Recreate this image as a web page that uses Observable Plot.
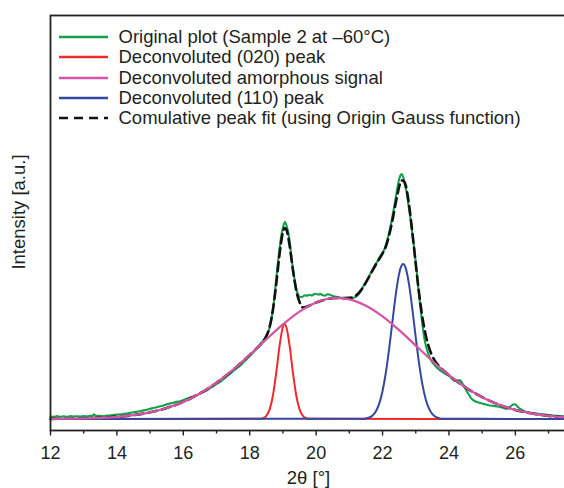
<!DOCTYPE html>
<html><head><meta charset="utf-8">
<script src="https://cdn.jsdelivr.net/npm/d3@7"></script>
<script src="https://cdn.jsdelivr.net/npm/@observablehq/plot@0.6"></script>
<style>
body{margin:0;background:#fff;}
#wrap{position:relative;width:564px;height:488px;font-family:"Liberation Sans",Arial,sans-serif;color:#231f20;}
#legend{position:absolute;left:59px;top:27px;font-size:18.5px;line-height:20.3px;}
.row{display:flex;align-items:center;height:20.3px;white-space:nowrap;}
.row svg{width:49px;height:6px;margin-right:10.5px;flex:none;}
</style></head>
<body><div id="wrap"><div id="chart"></div><div id="legend"></div></div>
<script>
// ---- data (intensity in arbitrary units) ----
const originalX = [12.0,12.1,12.2,12.3,12.4,12.5,12.6,12.7,12.8,12.9,13.0,13.1,13.2,13.27,13.31,13.36,13.5,13.6,13.7,13.8,13.9,14.0,14.1,14.2,14.3,14.4,14.5,14.6,14.7,14.8,14.9,15.0,15.1,15.2,15.3,15.4,15.5,15.6,15.7,15.8,15.9,16.0,16.1,16.2,16.3,16.4,16.5,16.6,16.7,16.8,16.9,17.0,17.1,17.2,17.3,17.4,17.5,17.6,17.7,17.8,17.9,18.0,18.1,18.2,18.3,18.4,18.5,18.58,18.64,18.7,18.75,18.8,18.85,18.9,18.95,19.0,19.06,19.12,19.17,19.22,19.27,19.32,19.37,19.42,19.47,19.53,19.6,19.67,19.72,19.8,19.87,19.93,20.0,20.07,20.12,20.2,20.27,20.34,20.42,20.5,20.58,20.66,20.76,20.86,20.96,21.06,21.16,21.25,21.33,21.44,21.53,21.63,21.74,21.85,21.95,22.03,22.1,22.18,22.23,22.3,22.38,22.43,22.48,22.53,22.58,22.63,22.68,22.73,22.78,22.83,22.88,22.93,22.98,23.03,23.08,23.13,23.18,23.23,23.28,23.34,23.4,23.49,23.58,23.68,23.8,23.9,24.0,24.1,24.19,24.27,24.34,24.4,24.47,24.53,24.59,24.66,24.74,24.84,24.94,25.05,25.14,25.24,25.34,25.44,25.54,25.64,25.74,25.82,25.89,25.95,26.0,26.07,26.14,26.24,26.34,26.5,26.65,26.8,26.95,27.1,27.25,27.4,27.5];
const originalY = [2.6,2.1,2.9,2.3,2.7,2.2,3.0,2.5,2.8,2.4,2.9,2.6,3.1,3.3,4.8,3.2,3.1,2.9,3.5,3.6,4.0,4.4,4.7,5.1,5.5,6.1,6.7,7.1,7.8,8.6,9.2,10.2,10.9,11.7,12.7,13.5,14.7,15.4,16.3,17.2,17.6,18.9,20.2,21.6,22.6,23.8,25.3,26.9,28.5,30.6,32.7,35.1,37.0,39.6,42.3,45.0,47.8,50.6,53.0,56.2,59.6,63.0,66.4,70.1,74.0,78.2,83.2,89,97,110,124,141,157,171,183,191.5,197,192,185,173,158,146,136,128,123.5,122,122.6,123.8,123.2,124.3,123.5,124.7,125.3,124.3,125.1,123.7,123.3,124.7,124.3,123.0,122.4,121.9,121.0,120.3,120.0,120.8,121.6,123.8,127,134,139,145,152,158,164,168,174,184,191,203,218,228,237,243,245,241,233,226,214,203,190,177,163,147,130,114,100,87,77,69,63,57,53.5,50,47,45,43,40.2,38,38.8,38.6,36,32,28,25,21.2,18.6,17,16,15,14.2,13.5,13.1,12.6,12,11,10.2,11.6,13.5,14.8,14.5,12.2,10.1,8.4,7.1,6.1,5.4,4.8,4.2,3.7,3.2,2.8,2.6];

const peak020X = [12,18.3,18.4,18.5,18.6,18.7,18.8,18.9,19.0,19.05,19.1,19.2,19.3,19.4,19.5,19.6,19.7,19.8,27.5];
const peak020Y = [0,0.2,0.8,3.1,9.6,23.7,46.7,73.6,92.3,95,92.3,73.6,46.7,23.7,9.6,3.1,0.8,0.2,0];

const amorphX = [12,12.5,13,13.5,14,14.5,15,15.5,16,16.5,17,17.5,18,18.5,19,19.5,20,20.5,20.65,21,21.5,22,22.5,23,23.5,24,24.5,25,25.5,26,26.5,27,27.5];
const amorphY = [0.14,0.3,0.6,1.2,2.2,3.9,6.7,11.0,17.1,25.5,36.2,49.3,64.1,79.6,94.6,107.4,116.5,120.8,121,119.7,113.3,102.6,88.8,73.4,58.0,43.8,31.6,21.8,14.4,9.1,5.5,3.1,1.7];

const peak110X = [12,21.4,21.5,21.6,21.7,21.8,21.9,22.0,22.1,22.2,22.3,22.4,22.5,22.6,22.62,22.7,22.8,22.9,23.0,23.1,23.2,23.3,23.4,23.5,23.6,23.7,23.8,27.5];
const peak110Y = [0,0.2,0.6,1.5,3.6,7.8,15.4,28.0,46.5,70.6,98.2,124.9,145.4,154.7,155,150.6,134.2,109.3,81.5,55.6,34.6,19.8,10.3,4.9,2.1,0.9,0.3,0];

const fitX = [12,12.5,13,13.5,14,14.5,15,15.5,16,16.5,17,17.5,18,18.2,18.4,18.5,18.6,18.7,18.8,18.9,19.0,19.05,19.1,19.2,19.3,19.4,19.5,19.6,19.7,19.8,20.0,20.25,20.5,20.75,21.0,21.2,21.4,21.6,21.8,22.0,22.1,22.2,22.3,22.4,22.5,22.56,22.62,22.7,22.8,22.9,23.0,23.1,23.2,23.3,23.4,23.5,23.6,23.7,23.8,24.0,24.5,25,25.5,26,26.5,27,27.5];
const fitY = [0.14,0.3,0.6,1.2,2.2,3.9,6.7,11.0,17.1,25.5,36.2,49.3,64.1,70.3,77.3,82.7,92.3,109.5,135.5,165.3,186.9,191,189.7,173.6,149.3,128.7,117.0,111.5,112.0,113.4,116.5,119.2,120.8,121,121.2,123.5,131,142.5,154.5,165.5,172.5,184,199,216.5,232,238.5,238.4,233.3,213.8,185.8,154.9,125.9,101.8,83.9,71.3,62.9,57.1,53.0,49.6,43.8,31.6,21.8,14.4,9.1,5.5,3.1,1.7];

const majorTicks = [12,14,16,18,20,22,24,26];
const minorTicks = [13,15,17,19,21,23,25,27];

const seriesNames = ["Original plot (Sample 2 at \u201360\u00b0C)","Deconvoluted (020) peak","Deconvoluted amorphous signal","Deconvoluted (110) peak","Comulative peak fit (using Origin Gauss function)"];
const seriesColors = ["#13a14b","#ee2a2a","#d653a6","#34489f","#111111"];
const xLabel = "2\u03b8 [\u00b0]";
const yLabel = "Intensity [a.u.]";

const toRows = (xs, ys) => xs.map((x, i) => ({x, y: ys[i]}));
const original = toRows(originalX, originalY);
const peak020 = toRows(peak020X, peak020Y);
const amorph = toRows(amorphX, amorphY);
const peak110 = toRows(peak110X, peak110Y);
const fit = toRows(fitX, fitY);

const font = '"Liberation Sans", Arial, sans-serif';
const chart = Plot.plot({
  width: 564, height: 488,
  marginLeft: 50, marginRight: -2, marginTop: 15, marginBottom: 58,
  x: {domain: [12, 27.54], label: null},
  y: {domain: [-11.5, 403.5], axis: null, label: null},
  style: {fontFamily: font, color: "#231f20", background: "white", overflow: "visible"},
  marks: [
    Plot.axisX({ticks: majorTicks, tickSize: 5.5, tickPadding: 10.5, fontSize: 18, label: null, strokeWidth: 1.4}),
    Plot.axisX({ticks: minorTicks, tickSize: 3.5, tickFormat: () => "", label: null, strokeWidth: 1.4}),
    Plot.line(original, {x: "x", y: "y", stroke: seriesColors[0], strokeWidth: 2.1, curve: "monotone-x"}),
    Plot.line(fit, {x: "x", y: "y", stroke: seriesColors[4], strokeWidth: 2.6, strokeDasharray: "9,5", curve: "monotone-x"}),
    Plot.line(peak020, {x: "x", y: "y", stroke: seriesColors[1], strokeWidth: 2, curve: "monotone-x"}),
    Plot.line(peak110, {x: "x", y: "y", stroke: seriesColors[3], strokeWidth: 2, curve: "monotone-x"}),
    Plot.line(amorph, {x: "x", y: "y", stroke: seriesColors[2], strokeWidth: 2.3, curve: "monotone-x"}),
    Plot.frame({stroke: "#222", strokeWidth: 1.8}),
    Plot.text([xLabel], {frameAnchor: "bottom", lineAnchor: "middle", dy: 48, fontSize: 18.5}),
    Plot.text([yLabel], {frameAnchor: "left", textAnchor: "middle", rotate: -90, dx: -31, dy: -11, fontSize: 18.5})
  ]
});
document.getElementById("chart").appendChild(chart);

const legend = document.getElementById("legend");
seriesNames.forEach((name, i) => {
  const row = document.createElement("div");
  row.className = "row";
  const dash = i === 4 ? ' stroke-dasharray="9,6"' : '';
  row.innerHTML = `<svg viewBox="0 0 49 6"><line x1="0" y1="3" x2="49" y2="3" stroke="${seriesColors[i]}" stroke-width="2.3"${dash}/></svg><span>${name}</span>`;
  legend.appendChild(row);
});
</script></body></html>
